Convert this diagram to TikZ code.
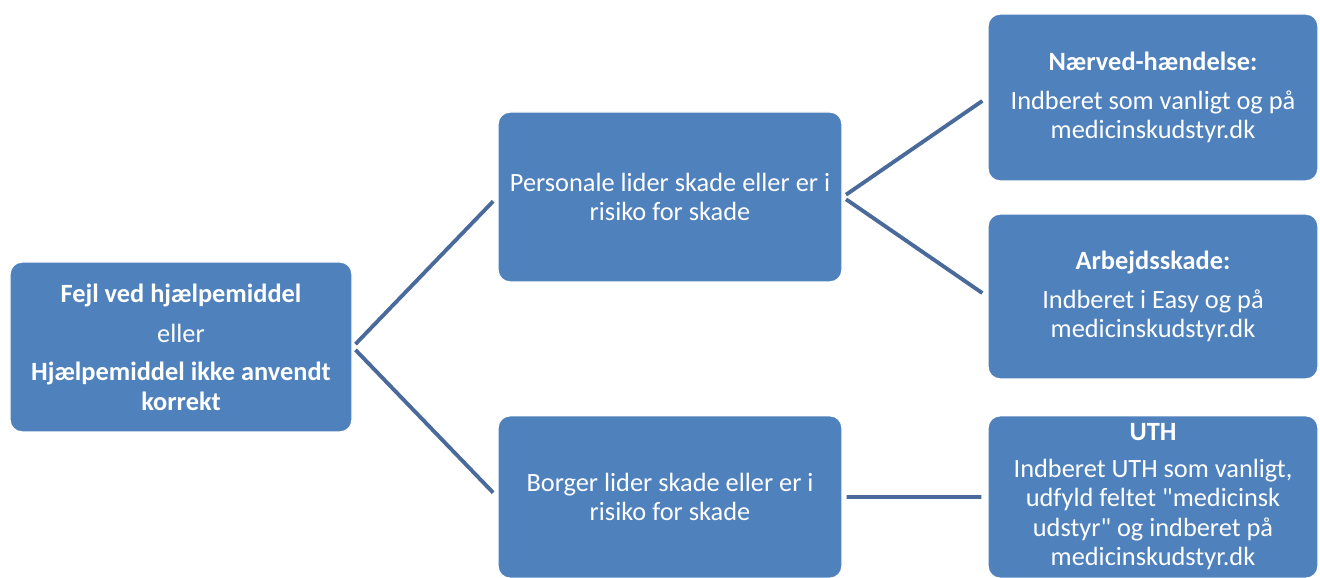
\documentclass[tikz,border=0pt]{standalone}
\usepackage{fontspec}
\setmainfont{Carlito}
\usepackage{xcolor}
\usepackage{tikz}
\usetikzlibrary{arrows}
\definecolor{boxblue}{RGB}{79,129,189}
\definecolor{lineblue}{RGB}{74,106,156}
\tikzset{
	main node/.style={rectangle,rounded corners=0.24cm,draw=white,line width=0.8pt,
		fill=boxblue,text=white,align=center,font=\fontsize{15}{16.8}\selectfont,
		minimum height=3.4cm,inner sep=1pt},
	root node/.style={main node,minimum width=6.84cm},
	case node/.style={main node,minimum width=6.88cm},
	action node/.style={main node,minimum width=6.6cm,minimum height=3.34cm}
}

\begin{document}
\begin{tikzpicture}[grow=right,
	    edge from parent path={(\tikzparentnode.east) -- (\tikzchildnode.west)},
	    edge from parent/.style={draw=lineblue,line width=2.2pt,shorten <=0.08cm,shorten >=0.12cm},
	    level 1/.style={sibling distance=6cm, level distance=9.78cm},
	    level 2/.style={sibling distance=3.98cm, level distance=9.66cm}]
	    \useasboundingbox (-3.62,6.94) rectangle (22.78,-4.62);
	    \node [root node] (fejl){\textbf{Fejl ved hjælpemiddel}\\[6pt]eller\\[5pt]\textbf{Hjælpemiddel ikke anvendt}\\\textbf{korrekt}}
	      child {node [case node,minimum height=3.25cm] (borger) {Borger lider skade eller er i\\risiko for skade}
	        child {node [action node,minimum height=3.25cm] (uth) {\textbf{UTH}\\[4pt]Indberet UTH som vanligt,\\udfyld feltet \textquotedbl medicinsk\\udstyr\textquotedbl{} og indberet på\\medicinskudstyr.dk}}
	      }
	      child {node [case node] (personale) {Personale lider skade eller er i\\risiko for skade}
	        child {node [action node,minimum height=3.3cm] (arbejd) {\textbf{Arbejdsskade:}\\[5pt]Indberet i Easy og på\\medicinskudstyr.dk}}
	        child {node [action node] (naerved) {\textbf{Nærved-hændelse:}\\[5pt]Indberet som vanligt og på\\medicinskudstyr.dk}}
	      };
	  \end{tikzpicture}
\end{document}
